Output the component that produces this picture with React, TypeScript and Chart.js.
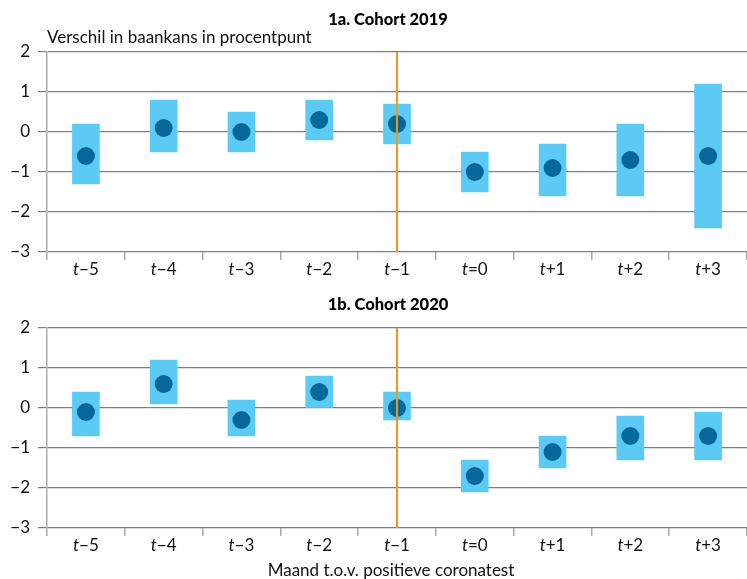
import React, { useEffect, useRef } from "react";
import { Chart, registerables } from "chart.js";

Chart.register(...registerables);

const categories = ["t−5", "t−4", "t−3", "t−2", "t−1", "t=0", "t+1", "t+2", "t+3"];
const yTicks = [2, 1, 0, -1, -2, -3];

const low2019 = [-1.3, -0.5, -0.5, -0.2, -0.3, -1.5, -1.6, -1.6, -2.4];
const high2019 = [0.2, 0.8, 0.5, 0.8, 0.7, -0.5, -0.3, 0.2, 1.2];
const point2019 = [-0.6, 0.1, 0.0, 0.3, 0.2, -1.0, -0.9, -0.7, -0.6];

const low2020 = [-0.7, 0.1, -0.7, 0.0, -0.3, -2.1, -1.5, -1.3, -1.3];
const high2020 = [0.4, 1.2, 0.2, 0.8, 0.4, -1.3, -0.7, -0.2, -0.1];
const point2020 = [-0.1, 0.6, -0.3, 0.4, 0.0, -1.7, -1.1, -0.7, -0.7];

const markerCategory = "t−1";

const FONT = "Lato, 'Open Sans', sans-serif";
const BAR = "#5BCBF5";
const DOT = "#06689A";
const ORANGE = "#F7941D";

type Cfg = {
  title: string;
  low: number[];
  high: number[];
  pts: number[];
  yTitle?: string;
  xTitle?: string;
  padTop: number;
  xHeight: number;
  titleY: number;
};

function makeChart(canvas: HTMLCanvasElement, cfg: Cfg) {
  const overlay = {
    id: "overlay",
    afterDatasetsDraw(chart: any) {
      const ctx = chart.ctx;
      const area = chart.chartArea;
      const xs = chart.scales.x;
      const mx = xs.getPixelForValue(categories.indexOf(markerCategory));
      ctx.save();
      ctx.strokeStyle = ORANGE;
      ctx.lineWidth = 2;
      ctx.beginPath();
      ctx.moveTo(mx, area.top);
      ctx.lineTo(mx, area.bottom);
      ctx.stroke();
      ctx.restore();
    },
    afterDraw(chart: any) {
      const ctx = chart.ctx;
      const area = chart.chartArea;
      const xs = chart.scales.x;
      ctx.save();
      ctx.fillStyle = "#111";
      ctx.textBaseline = "middle";
      categories.forEach((lab, i) => {
        const cx = xs.getPixelForValue(i);
        const head = lab.slice(0, 1);
        const rest = lab.slice(1);
        ctx.font = `italic 17px ${FONT}`;
        const w1 = ctx.measureText(head).width;
        ctx.font = `17px ${FONT}`;
        const w2 = ctx.measureText(rest).width;
        const sx = cx - (w1 + w2) / 2;
        ctx.textAlign = "left";
        ctx.font = `italic 17px ${FONT}`;
        ctx.fillText(head, sx, area.bottom + 18);
        ctx.font = `17px ${FONT}`;
        ctx.fillText(rest, sx + w1, area.bottom + 18);
      });
      ctx.textAlign = "center";
      ctx.font = `900 16.5px ${FONT}`;
      ctx.fillStyle = "#000";
      ctx.fillText(cfg.title, 388, cfg.titleY);
      if (cfg.yTitle) {
        ctx.textAlign = "left";
        ctx.font = `17px ${FONT}`;
        ctx.fillStyle = "#111";
        ctx.fillText(cfg.yTitle, area.left, area.top - 14);
      }
      if (cfg.xTitle) {
        ctx.textAlign = "center";
        ctx.font = `17px ${FONT}`;
        ctx.fillStyle = "#111";
        ctx.fillText(cfg.xTitle, 391, area.bottom + 43);
      }
      ctx.restore();
    },
  };

  return new Chart(canvas, {
    type: "bar",
    data: {
      labels: categories,
      datasets: [
        {
          type: "line",
          data: cfg.pts,
          showLine: false,
          pointRadius: 9,
          pointHoverRadius: 9,
          pointBackgroundColor: DOT,
          pointBorderWidth: 0,
          borderColor: DOT,
          clip: false,
          order: 0,
        } as any,
        {
          type: "bar",
          data: cfg.low.map((l, i) => [l, cfg.high[i]]),
          backgroundColor: BAR,
          borderWidth: 0,
          barThickness: 27,
          order: 1,
        } as any,
      ],
    },
    options: {
      animation: false,
      responsive: false,
      maintainAspectRatio: false,
      layout: { autoPadding: false, padding: { top: cfg.padTop, left: 0, right: 0, bottom: 0 } },
      plugins: { legend: { display: false }, tooltip: { enabled: false }, title: { display: false } },
      scales: {
        x: {
          offset: true,
          grid: {
            display: true,
            offset: true,
            drawOnChartArea: false,
            drawTicks: true,
            tickLength: 8,
            color: "#aaaaaa",
            lineWidth: 1.5,
          },
          border: { display: false },
          ticks: { display: false },
          afterFit: (s: any) => {
            s.height = cfg.xHeight;
            s.paddingLeft = 0;
            s.paddingRight = 0;
          },
        },
        y: {
          min: -3,
          max: 2,
          afterBuildTicks: (s: any) => {
            s.ticks = yTicks.map((v) => ({ value: v }));
          },
          grid: { color: "#808080", lineWidth: 1.2, tickLength: 9, drawTicks: true },
          border: { display: true, color: "#aaaaaa", width: 1.5 },
          ticks: {
            color: "#111",
            padding: 8,
            font: { family: FONT, size: 17 },
            callback: (v: any) => (Number(v) < 0 ? "−" + Math.abs(Number(v)) : String(v)),
          },
          afterFit: (s: any) => {
            s.width = 47;
          },
        },
      },
    },
    plugins: [overlay],
  } as any);
}

export default function App() {
  const r1 = useRef<HTMLCanvasElement>(null);
  const r2 = useRef<HTMLCanvasElement>(null);
  useEffect(() => {
    const c1 = makeChart(r1.current!, {
      title: "1a. Cohort 2019",
      low: low2019,
      high: high2019,
      pts: point2019,
      yTitle: "Verschil in baankans in procentpunt",
      padTop: 52,
      xHeight: 38,
      titleY: 20,
    });
    const c2 = makeChart(r2.current!, {
      title: "1b. Cohort 2020",
      low: low2020,
      high: high2020,
      pts: point2020,
      xTitle: "Maand t.o.v. positieve coronatest",
      padTop: 38,
      xHeight: 51,
      titleY: 15,
    });
    return () => {
      c1.destroy();
      c2.destroy();
    };
  }, []);
  return (
    <div style={{ position: "absolute", left: 0, top: 0, width: 747, height: 579, background: "#fff" }}>
      <canvas ref={r1} width={747} height={290} style={{ display: "block", width: 747, height: 290 }} />
      <canvas ref={r2} width={747} height={289} style={{ display: "block", width: 747, height: 289 }} />
    </div>
  );
}
